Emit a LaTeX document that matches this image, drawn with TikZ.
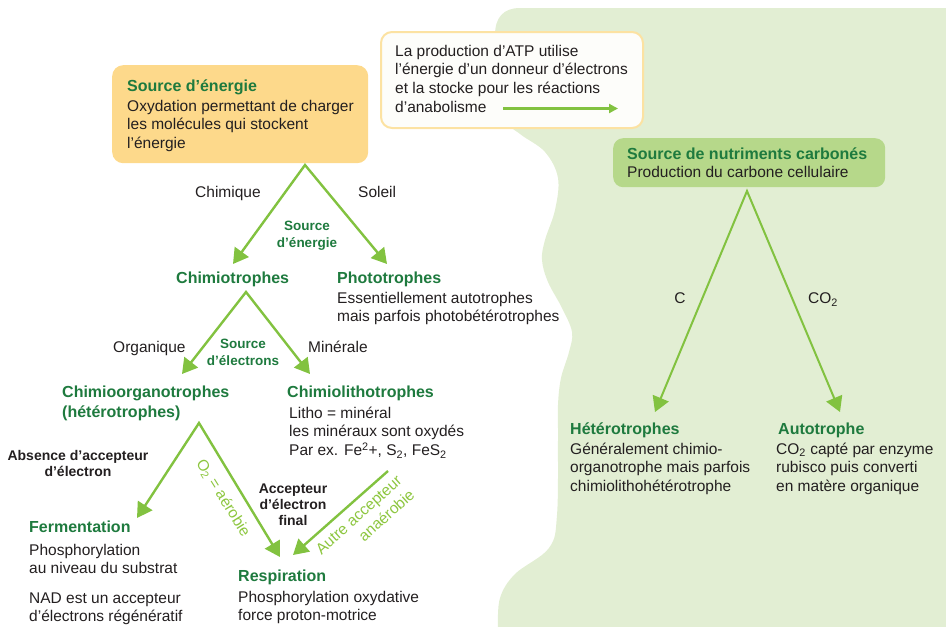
\documentclass[tikz,border=0pt]{standalone}
\usepackage{fontspec}
\setmainfont{Liberation Sans}
\usetikzlibrary{arrows.meta}
\definecolor{dkgreen}{RGB}{30,122,62}
\definecolor{argreen}{RGB}{130,194,64}
\definecolor{ltgreen}{RGB}{141,198,63}
\definecolor{regionfill}{RGB}{226,238,211}
\definecolor{orangebox}{RGB}{253,217,139}
\definecolor{atpborder}{RGB}{252,226,162}
\definecolor{atpfill}{RGB}{253,253,250}
\definecolor{greenbox}{RGB}{182,216,138}
\definecolor{bodytext}{RGB}{35,31,32}
\newcommand{\mlines}[1]{\begin{tabular}[t]{@{}l@{}}#1\end{tabular}}
\newcommand{\clines}[1]{\begin{tabular}[t]{@{}c@{}}#1\end{tabular}}
\newcommand{\rlines}[1]{\begin{tabular}{@{}r@{}}#1\end{tabular}}
\begin{document}
\begin{tikzpicture}[x=1pt,y=-1pt,
 body/.style={anchor=base west, inner sep=0pt, text=bodytext, font=\fontsize{15.5}{18.7}\selectfont},
 ttl/.style={anchor=base west, inner sep=0pt, text=dkgreen, font=\fontsize{16}{20}\selectfont\bfseries},
 sublbl/.style={anchor=base, inner sep=0pt, text=dkgreen, font=\fontsize{13.5}{17}\selectfont\bfseries},
 cond/.style={anchor=base, inner sep=0pt, text=bodytext, font=\fontsize{14}{16}\selectfont\bfseries},
 rotlbl/.style={inner sep=0pt, text=ltgreen, font=\fontsize{15.5}{19}\selectfont},
 headtip/.tip={Triangle[length=15pt,width=17pt]},
 arr/.style={draw=argreen, line width=2.4pt, -headtip},
 arrboth/.style={draw=argreen, line width=2.4pt, line join=miter, headtip-headtip},
 boxnode/.style={anchor=north west, inner sep=0pt, rounded corners=11pt},
]
\path[use as bounding box] (0,0) rectangle (946,627);
% green background region
\fill[regionfill] (946,8) -- (520,8) .. controls (503,8) and (495,18) .. (495,35)
  -- plot[smooth,tension=0.6] coordinates {(495,35) (497,80) (503,118) (520,134) (545,152) (558,178) (555,210) (545,240) (542,260) (548,282) (562,308) (572,332) (569,352) (561,378) (558,405) (558,440) (557,515) (549,548) (515,574) (500,598) (498,627)}
  -- (946,627) -- cycle;

% boxes
\node[boxnode, fill=orangebox, minimum width=256pt, minimum height=98pt] (ebox) at (112,65) {};
\node[boxnode, fill=atpfill, draw=atpborder, line width=2pt, minimum width=262pt, minimum height=96pt] (atpbox) at (380,31) {};
\node[boxnode, fill=greenbox, rounded corners=10pt, minimum width=272pt, minimum height=49pt] (cbox) at (613,138) {};

% box texts
\node[ttl] (etitle) at (127,91) {Source d’énergie};
\node[body] (ebody) at (127,111) {\mlines{Oxydation permettant de charger\\les molécules qui stockent\\l’énergie}};
\node[body] (atptext) at (395,56) {\mlines{La production d’ATP utilise\\l’énergie d’un donneur d’électrons\\et la stocke pour les réactions\\d’anabolisme}};
\node[ttl] (ctitle) at (627,159) {Source de nutriments carbonés};
\node[body] (cbody) at (627,177) {Production du carbone cellulaire};

% left tree texts
\node[body] (chimique) at (195,197) {Chimique};
\node[body] (soleil) at (358,197) {Soleil};
\node[sublbl] (srcen) at (307,230) {\clines{Source\\d’énergie}};
\node[ttl] (chimio) at (176,283) {Chimiotrophes};
\node[ttl] (photo) at (337,283) {Phototrophes};
\node[body] (photobody) at (337,303) {\mlines{Essentiellement autotrophes\\mais parfois photobétérotrophes}};
\node[body] (organique) at (113,352) {Organique};
\node[body] (minerale) at (308,352) {Minérale};
\node[sublbl] (srcel) at (243,348) {\clines{Source\\d’électrons}};
\node[ttl] (corg) at (62,397) {\mlines{Chimioorganotrophes\\(hétérotrophes)}};
\node[ttl] (clith) at (287,397) {Chimiolithotrophes};
\node[body] (clithbody) at (289,418) {\mlines{Litho = minéral\\les minéraux sont oxydés\\Par ex. Fe\textsuperscript{2}+, S\textsubscript{2}, FeS\textsubscript{2}}};
\node[cond] (absence) at (78,460) {\clines{Absence d’accepteur\\d’électron}};
\node[cond] (accept) at (293,493) {\clines{Accepteur\\d’électron\\final}};
\node[rotlbl, rotate=-58] (aerob) at (223,498) {O\textsubscript{2} = aérobie};
\node[rotlbl, rotate=42] (anaer) at (366,523) {\rlines{Autre accepteur\\anaérobie}};
\node[ttl] (ferm) at (29,532) {Fermentation};
\node[body] (fermbody) at (29,555) {\mlines{Phosphorylation\\au niveau du substrat}};
\node[body] (nad) at (29,603) {\mlines{NAD est un accepteur\\d’électrons régénératif}};
\node[ttl] (resp) at (238,581) {Respiration};
\node[body] (respbody) at (238,602) {\mlines{Phosphorylation oxydative\\force proton-motrice}};

% right tree texts
\node[body, anchor=base] (clbl) at (680,303.5) {C};
\node[body] (co2lbl) at (808,303.5) {CO\textsubscript{2}};
\node[ttl] (hetero) at (570,434) {Hétérotrophes};
\node[body] (heterobody) at (570,454) {\mlines{Généralement chimio-\\organotrophe mais parfois\\chimiolithohétérotrophe}};
\node[ttl] (auto) at (778,434) {Autotrophe};
\node[body] (autobody) at (776,454) {\mlines{CO\textsubscript{2} capté par enzyme\\rubisco puis converti\\en matère organique}};

% connector coordinates
\coordinate (ap1) at (305,165);
\coordinate (tchimio) at (233,264);
\coordinate (tphoto) at (387,264);
\coordinate (ap2) at (246,292);
\coordinate (tcorg) at (182,374);
\coordinate (tclith) at (310,374);
\coordinate (ap3) at (199,423);
\coordinate (tferm) at (137,518);
\coordinate (tresp1) at (280,557);
\coordinate (sautre) at (388,471);
\coordinate (tresp2) at (293,555);
\coordinate (apR) at (747,191);
\coordinate (thet) at (655,412);
\coordinate (tauto) at (840,412);
\coordinate (atps) at (503,108.5);
\coordinate (atpt) at (618,108.5);

% connectors
\draw[arrboth] (tchimio) -- (ap1) -- (tphoto);
\draw[arrboth] (tcorg) -- (ap2) -- (tclith);
\draw[arrboth] (tferm) -- (ap3) -- (tresp1);
\draw[arr] (sautre) -- (tresp2);
\draw[arrboth, line width=2pt] (thet) -- (apR) -- (tauto);
\draw[draw=argreen, line width=2.2pt, -{Triangle[length=9pt,width=9pt]}] (atps) -- (atpt);
\end{tikzpicture}
\end{document}
